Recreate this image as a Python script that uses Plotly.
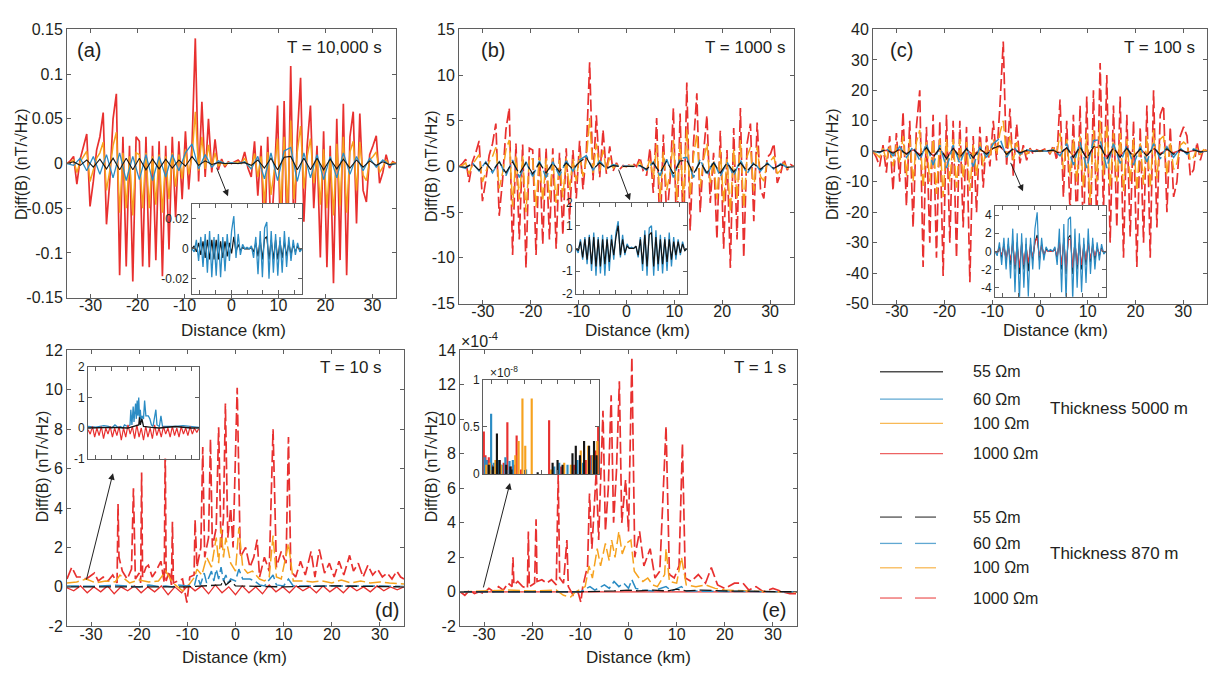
import plotly.graph_objects as go

W, H = 1216, 687
FONT = "Liberation Sans, Arial, Helvetica, sans-serif"
TXT = "#231f20"
AXC = "#5f5f5f"
RED, ORANGE, BLUE, BLACK = "#e8302f", "#f6a21e", "#2b8cc4", "#151515"
DASH = "12px,4px"

# ---------------- data ----------------
X7 = [-35.0, -34.3, -33.6, -32.9, -32.2, -31.5, -30.8, -30.1, -29.4, -28.7,
      -28.0, -27.3, -26.6, -25.9, -25.2, -24.5, -23.8, -23.1, -22.4, -21.7,
      -21.0, -20.3, -19.6, -18.9, -18.2, -17.5, -16.8, -16.1, -15.4, -14.7,
      -14.0, -13.3, -12.6, -11.9, -11.2, -10.5, -9.8, -9.1, -8.4, -7.7,
      -7.0, -6.3, -5.6, -4.9, -4.2, -3.5, -2.8, -2.1, -1.4, -0.7,
      0.0, 0.7, 1.4, 2.1, 2.8, 3.5, 4.2, 4.9, 5.6, 6.3,
      7.0, 7.7, 8.4, 9.1, 9.8, 10.5, 11.2, 11.9, 12.6, 13.3,
      14.0, 14.7, 15.4, 16.1, 16.8, 17.5, 18.2, 18.9, 19.6, 20.3,
      21.0, 21.7, 22.4, 23.1, 23.8, 24.5, 25.2, 25.9, 26.6, 27.3,
      28.0, 28.7, 29.4, 30.1, 30.8, 31.5, 32.2, 32.9, 33.6, 34.3, 35.0]
X14 = [-35.0, -33.6, -32.2, -30.8, -29.4, -28.0, -26.6, -25.2, -23.8, -22.4,
       -21.0, -19.6, -18.2, -16.8, -15.4, -14.0, -12.6, -11.2, -9.8, -8.4,
       -7.0, -5.6, -4.2, -2.8, -1.4, 0.0, 1.4, 2.8, 4.2, 5.6,
       7.0, 8.4, 9.8, 11.2, 12.6, 14.0, 15.4, 16.8, 18.2, 19.6,
       21.0, 22.4, 23.8, 25.2, 26.6, 28.0, 29.4, 30.8, 32.2, 33.6, 35.0]
XTICKS = [-30, -20, -10, 0, 10, 20, 30]

# (a) T = 10,000 s
RED_A = [0.000, 0.003, 0.008, -0.023, 0.005, 0.018, 0.033, -0.048, -0.020, 0.015,
         0.030, 0.057, -0.068, -0.020, 0.050, 0.078, -0.125, 0.030, -0.115, 0.020,
         -0.132, 0.030, 0.025, -0.115, 0.030, -0.116, 0.020, -0.108, 0.025, -0.126,
         0.020, -0.096, 0.030, -0.060, 0.025, -0.040, 0.036, -0.029, 0.020, 0.140,
         -0.020, 0.069, -0.015, 0.050, -0.010, 0.027, -0.007, 0.005, -0.004, 0.002,
         0.000, 0.002, 0.004, 0.000, 0.013, -0.005, -0.015, 0.025, -0.036, 0.020,
         -0.100, 0.030, -0.080, -0.020, 0.065, -0.112, 0.070, -0.112, 0.109, -0.090,
         0.030, 0.096, -0.065, 0.020, 0.065, -0.050, 0.020, -0.105, 0.036, -0.116,
         0.020, -0.134, 0.050, -0.108, 0.067, -0.125, 0.030, 0.058, -0.067, 0.056,
         -0.030, -0.043, 0.010, 0.020, 0.031, -0.022, -0.010, 0.010, -0.005, 0.002, 0.000]
ORANGE_A = [0.000, 0.001, 0.004, -0.010, 0.002, 0.008, 0.014, -0.020, -0.008, 0.006,
            0.012, 0.024, -0.030, -0.008, 0.020, 0.035, -0.055, 0.012, -0.050, 0.008,
            -0.058, 0.012, 0.010, -0.050, 0.012, -0.050, 0.008, -0.046, 0.010, -0.055,
            0.008, -0.040, 0.012, -0.026, 0.010, -0.017, 0.016, -0.012, 0.008, 0.058,
            -0.008, 0.030, -0.006, 0.021, -0.004, 0.012, -0.003, 0.002, -0.002, 0.001,
            0.000, 0.001, 0.002, 0.000, 0.006, -0.002, -0.006, 0.011, -0.015, 0.008,
            -0.045, 0.013, -0.035, -0.008, 0.028, -0.050, 0.030, -0.050, 0.048, -0.040,
            0.013, 0.042, -0.028, 0.008, 0.028, -0.022, 0.008, -0.046, 0.016, -0.050,
            0.008, -0.058, 0.022, -0.047, 0.030, -0.055, 0.013, 0.025, -0.030, 0.024,
            -0.013, -0.019, 0.004, 0.008, 0.013, -0.010, -0.004, 0.004, -0.002, 0.001, 0.000]
BLUE_A = [0.0, -0.002, 0.006, -0.008, 0.008, -0.012, 0.010, -0.016, 0.012, -0.019,
          0.008, -0.018, 0.010, -0.019, 0.008, -0.015, 0.010, -0.008, 0.012, 0.022,
          -0.006, 0.010, -0.004, 0.003, 0.000, 0.001, 0.000, 0.002, -0.006, 0.008,
          -0.017, 0.012, -0.019, 0.014, 0.018, -0.020, 0.012, -0.016, 0.010, -0.018,
          0.008, -0.016, 0.012, -0.012, 0.008, -0.008, 0.006, -0.004, 0.004, -0.002, 0.0]
BLACK_A = [0.0, 0.002, -0.002, 0.004, -0.004, 0.005, -0.006, 0.006, -0.007, 0.006,
           -0.007, 0.006, -0.007, 0.005, -0.006, 0.005, -0.005, 0.004, -0.003, 0.008,
           -0.002, 0.003, -0.001, 0.001, 0.0, 0.0, 0.0, 0.001, -0.002, 0.004,
           -0.005, 0.006, -0.007, 0.007, 0.008, -0.007, 0.006, -0.007, 0.006, -0.007,
           0.005, -0.006, 0.005, -0.005, 0.004, -0.004, 0.003, -0.002, 0.002, -0.001, 0.0]

# (b) T = 1000 s
RED_B = [0.0, 0.3, 0.8, -1.7, 0.5, 1.5, 2.8, -3.8, -1.5, 1.2,
         2.5, 4.7, -5.4, -1.5, 4.0, 6.4, -9.7, 2.5, -8.0, 2.4,
         -11.1, 2.0, 1.8, -9.7, 2.2, -8.5, 2.0, -8.0, 2.0, -9.0,
         1.5, -7.5, 2.0, -5.8, 1.8, -3.5, 2.8, -2.5, 1.5, 11.4,
         -1.5, 5.6, -1.2, 4.0, -0.8, 2.2, -0.5, 0.4, -0.3, 0.1,
         0.0, 0.2, 0.3, 0.0, 1.0, -0.5, -1.0, 2.0, -2.9, 5.3,
         -8.0, 3.5, -5.8, -1.5, 6.4, -8.3, 5.8, -8.5, 9.2, -7.0,
         2.5, 8.0, -5.0, 1.5, 5.6, -4.0, 1.5, -8.0, 3.9, -9.0,
         1.8, -11.1, 4.2, -8.0, 6.4, -10.0, 2.5, 4.7, -6.0, 4.8,
         -2.5, -3.5, 1.0, 1.4, 2.5, -1.8, -0.8, 0.8, -0.4, 0.2, 0.0]
ORANGE_B = [0.0, 0.1, 0.4, -0.8, 0.2, 0.7, 1.3, -1.7, -0.7, 0.5,
            1.1, 2.1, -2.4, -0.7, 1.8, 2.9, -4.4, 1.1, -3.6, 1.1,
            -5.0, 0.9, 0.8, -4.4, 1.0, -3.8, 0.9, -3.6, 0.9, -4.0,
            0.7, -3.4, 0.9, -2.6, 0.8, -1.6, 1.3, -1.1, 0.7, 5.3,
            -0.7, 2.5, -0.5, 1.8, -0.4, 1.0, -0.2, 0.2, -0.1, 0.0,
            0.0, 0.1, 0.1, 0.0, 0.5, -0.2, -0.5, 0.9, -1.3, 2.4,
            -3.6, 1.6, -2.6, -0.7, 2.9, -3.7, 2.6, -3.8, 4.1, -3.2,
            1.1, 3.6, -2.3, 0.7, 2.5, -1.8, 0.7, -3.6, 1.8, -4.0,
            0.8, -5.0, 1.9, -3.6, 2.9, -4.5, 1.1, 2.1, -2.7, 2.2,
            -1.1, -1.6, 0.5, 0.6, 1.1, -0.8, -0.4, 0.4, -0.2, 0.1, 0.0]
BLUE_B = [0.0, -0.2, 0.4, -0.5, 0.5, -0.7, 0.6, -1.0, 0.7, -1.2,
          0.5, -1.1, 0.6, -1.2, 0.5, -1.0, 0.6, -0.5, 0.7, 1.2,
          -0.4, 0.6, -0.3, 0.2, 0.0, 0.05, 0.0, 0.1, -0.4, 0.5,
          -1.0, 0.8, -1.2, 0.9, 1.0, -1.2, 0.8, -1.0, 0.6, -1.1,
          0.5, -1.0, 0.7, -0.8, 0.5, -0.5, 0.4, -0.3, 0.3, -0.1, 0.0]
BLACK_B = [0.0, -0.1, 0.3, -0.4, 0.4, -0.5, 0.5, -0.7, 0.5, -0.8,
           0.4, -0.8, 0.4, -0.7, 0.4, -0.6, 0.4, -0.3, 0.5, 1.0,
           -0.3, 0.4, -0.2, 0.1, 0.0, 0.0, 0.0, 0.1, -0.3, 0.4,
           -0.7, 0.6, -0.8, 0.6, 0.7, -0.8, 0.5, -0.7, 0.4, -0.7,
           0.4, -0.6, 0.4, -0.5, 0.3, -0.3, 0.3, -0.2, 0.2, -0.1, 0.0]

# (c) T = 100 s
RED_C = [0.0, -2.0, -5.0, 2.0, -7.0, 5.0, -13.0, 6.0, -10.0, 13.0,
         -18.0, 10.0, -25.0, 8.0, 20.0, -38.0, 8.0, -30.0, 12.0, -35.0,
         10.0, -41.0, 12.0, -30.0, 10.0, -35.0, 10.0, -25.0, 8.0, -43.0,
         5.0, -20.0, 8.0, -12.0, 5.0, -5.0, 10.0, -3.0, 15.0, 36.0,
         -5.0, 14.0, -8.0, 9.0, -4.0, 2.0, -3.0, 1.0, -1.0, 0.5,
         0.0, 0.5, 1.0, -1.0, 2.0, -3.0, 17.0, -15.0, 10.0, -20.0,
         12.0, -25.0, 15.0, -30.0, 18.0, -33.0, 20.0, -25.0, 29.0, -20.0,
         25.0, -30.0, 15.0, -25.0, 18.0, -35.0, 12.0, -28.0, 10.0, -38.0,
         8.0, -30.0, 15.0, -35.0, 20.0, -25.0, 12.0, 15.0, -20.0, 8.0,
         -15.0, -10.0, 5.0, 8.0, 5.0, -8.0, -6.0, 3.0, -3.0, 1.0, 0.0]
ORANGE_C = [0.0, -1.0, -2.0, 1.0, -3.0, 2.0, -5.0, 2.0, -4.0, 5.0,
            -8.0, 4.0, -10.0, 3.0, 7.0, -12.0, 3.0, -10.0, 4.0, -14.0,
            4.0, -15.0, 4.0, -10.0, 4.0, -12.0, 4.0, -9.0, 3.0, -13.0,
            2.0, -8.0, 3.0, -5.0, 2.0, -2.0, 4.0, -1.0, 6.0, 10.0,
            -2.0, 5.0, -3.0, 3.0, -1.5, 1.0, -1.0, 0.5, -0.5, 0.2,
            0.0, 0.2, 0.5, -0.5, 1.0, -1.0, 6.0, -6.0, 4.0, -8.0,
            4.0, -10.0, 5.0, -12.0, 6.0, -17.0, 7.0, -10.0, 10.0, -8.0,
            9.0, -12.0, 6.0, -10.0, 6.0, -13.0, 4.0, -10.0, 4.0, -13.0,
            3.0, -11.0, 5.0, -12.0, 7.0, -9.0, 4.0, 5.0, -8.0, 3.0,
            -6.0, -4.0, 2.0, 3.0, 2.0, -3.0, -2.0, 1.0, -1.0, 0.5, 0.0]
BLUE_C = [0.0, -0.5, 1.0, -1.5, 1.5, -2.0, 1.5, -3.0, 2.5, -4.5,
          2.0, -5.5, 2.0, -4.0, 1.5, -5.0, 1.5, -2.0, 2.5, 4.3,
          -2.0, 1.5, -1.0, 0.5, 0.0, 0.2, 0.0, 0.5, -1.5, 2.5,
          -4.5, 3.0, -5.5, 3.5, 3.8, -5.5, 2.5, -4.0, 2.0, -4.5,
          1.5, -3.5, 2.5, -2.5, 1.5, -2.0, 1.0, -1.0, 0.8, -0.3, 0.0]
BLACK_C = [0.0, -0.2, 0.5, -0.7, 0.8, -1.0, 0.8, -1.5, 1.2, -2.0,
           1.0, -2.5, 1.0, -2.0, 0.8, -2.2, 0.8, -1.0, 1.0, 1.8,
           -1.0, 0.8, -0.5, 0.3, 0.0, 0.1, 0.0, 0.3, -0.8, 1.2,
           -2.0, 1.5, -2.5, 1.5, 1.8, -2.5, 1.2, -2.0, 1.0, -2.0,
           0.8, -1.5, 1.2, -1.2, 0.8, -1.0, 0.5, -0.5, 0.4, -0.2, 0.0]
RED_C_SOLID = [0.0, -0.2, 0.3, -0.4, 0.5, -0.8, 0.5, -1.0, 0.8, -1.5,
               0.6, -1.8, 0.8, -1.5, 0.5, -1.2, 0.5, -0.6, 1.0, 1.5,
               -0.5, 0.6, -0.3, 0.1, 0.0, 0.0, 0.0, 0.2, -0.5, 1.0,
               -1.5, 1.2, -2.0, 1.2, 1.4, -1.8, 1.0, -1.5, 0.8, -1.5,
               0.6, -1.0, 0.8, -0.8, 0.5, -0.5, 0.3, -0.3, 0.2, -0.1, 0.0]

# (d) T = 10 s
RED_D_X = [-35, -34, -33, -32, -31, -30, -29.3, -28.5, -27.5, -26.5, -25.5, -24.6, -24.4, -24.2,
           -23.5, -22.5, -21.6, -21.2, -20.8, -20.0, -19.7, -19.5, -19.3, -18.6, -18.1, -17.3,
           -16.5, -15.5, -14.8, -14.6, -14.4, -13.8, -13.3, -13.1, -12.9, -12, -11, -10.1, -9.5,
           -8.6, -8.4, -8.0, -7.2, -6.8, -6.4, -5.6, -5.2, -4.8, -4.0, -3.5, -3.0, -2.5, -2.1,
           -1.6, -1.0, -0.5, 0.35, 1.0, 2.1, 3.0, 3.8, 4.5, 5.0, 6.0, 7.0, 7.8, 8.5, 9.5, 10.5,
           11.0, 11.5, 12.5, 13.5, 14.5, 15.7, 16.5, 17.4, 18.5, 19.5, 20.5, 21.5, 22.5, 23.7,
           24.5, 25.5, 26.5, 27.5, 28.5, 29.5, 30.5, 31.5, 32.5, 33.5, 34.3, 35]
RED_D_Y = [0.4, 1.0, 0.5, 0.5, 0.4, 0.6, 0.7, 0.3, 0.5, 0.3, 0.6, 0.2, 4.2, 1.5,
           0.8, 0.4, 0.9, 5.0, 0.4, 0.7, 0.2, 5.8, 0.5, 1.0, 1.1, 0.5,
           0.8, 1.3, 0.2, 7.3, 0.3, 0.8, 0.1, 3.3, 0.2, 0.3, 0.4, -0.8, 0.5,
           0.6, 3.4, 1.0, 2.0, 7.1, 1.5, 2.5, 7.5, 2.0, 3.0, 8.1, 2.0, 3.5, 9.3,
           2.5, 4.0, 2.0, 10.1, 1.5, 2.0, 1.0, 1.5, 2.4, 0.5, 1.5, 0.8, 8.0, 1.0, 1.8, 1.2,
           7.6, 0.8, 0.5, 1.3, 0.6, 1.8, 0.5, 1.9, 0.7, 1.2, 0.5, 1.3, 0.6, 1.6,
           0.8, 1.2, 0.5, 1.1, 0.6, 0.9, 0.5, 0.7, 0.4, 0.8, 0.5, 0.4]
ORANGE_D_X = [-35, -33, -31, -29, -27, -25, -24, -22, -20, -18, -16, -14.5, -13, -12, -11, -10,
              -8.5, -8, -7, -6, -5, -4, -3.5, -3, -2.5, -2, -1, 0, 0.7, 1.5, 2.5, 3.5, 5, 6, 7,
              7.8, 8.5, 9.5, 11, 12, 14, 16, 18, 20, 22, 24, 26, 28, 30, 32, 35]
ORANGE_D_Y = [0.2, 0.25, 0.4, 0.2, 0.3, 0.25, 0.6, 0.2, 0.35, 0.25, 0.3, 0.8, 0.2, 0.0, -0.2, 0.0,
              0.5, 0.9, 0.6, 1.5, 1.0, 2.5, 1.2, 3.0, 1.5, 2.5, 1.2, 0.8, 3.0, 1.0, 0.7, 0.8, 0.4, 0.3, 0.5,
              2.6, 0.5, 0.4, 2.2, 0.3, 0.3, 0.25, 0.3, 0.2, 0.35, 0.2, 0.3, 0.2, 0.25, 0.2, 0.15]
BLUE_D_X = [-35, -30, -25, -22, -20, -18, -16, -14.5, -13, -12, -10, -8.5, -8, -7.3, -6.5, -6, -5,
            -4.5, -4, -3.5, -3, -2.5, -2, -1.5, -1, 0, 0.7, 1.5, 3, 4, 5, 6, 7.8, 8.5, 10, 11,
            12, 15, 20, 25, 30, 35]
BLUE_D_Y = [0.05, 0.03, 0.08, 0.05, 0.0, 0.1, 0.02, 0.05, 0.0, 0.1, 0.05, 0.1, 0.6, 0.1, 0.7, 0.2, 0.8,
            0.3, 0.9, 0.4, 1.0, 0.3, 0.6, 0.2, 0.4, 0.3, 0.9, 0.4, 0.4, 0.3, 0.1, 0.05, 0.6, 0.1, 0.05, 0.4,
            0.05, 0.05, 0.05, 0.08, 0.05, 0.02]
BLACK_D_X = [-35, -20, -10, -3, -2.5, -2, -1, 0, 5, 10, 20, 30, 35]
BLACK_D_Y = [0.0, 0.02, 0.0, 0.1, 0.35, 0.1, 0.3, 0.05, 0.02, 0.0, 0.05, 0.0, 0.0]
RED_D_SOLID = [-0.05, -0.2, 0.05, -0.3, 0.0, -0.25, 0.05, -0.35, 0.0, -0.2,
               0.05, -0.3, 0.0, -0.25, 0.05, -0.4, 0.0, -0.3, 0.1, -0.2,
               0.05, -0.35, 0.1, -0.3, 0.0, -0.4, 0.05, -0.3, 0.0, -0.35,
               0.1, -0.25, 0.0, -0.3, 0.05, -0.2, 0.0, -0.3, 0.05, -0.25,
               0.0, -0.3, 0.05, -0.2, 0.0, -0.25, 0.05, -0.2, 0.0, -0.15, 0.0]

# (e) T = 1 s  (units of 1e-4 nT/sqrt(Hz))
RED_E_X = [-35, -34, -33, -32, -31, -30, -29, -28, -27, -26, -25, -24.2, -24, -23.8, -23, -22, -21,
           -20.8, -20.6, -19.5, -19.2, -19, -18, -17, -16, -15, -14.6, -14.3, -13.5, -12.8, -12.5,
           -11.5, -10.5, -9.9, -9.5, -8.5, -8.1, -7.6, -6.7, -6.2, -5.3, -4.8, -4.2, -3.6, -3.1,
           -2.5, -1.9, -1.4, -0.6, 0, 0.7, 1.3, 2.3, 3.2, 4.5, 5.5, 6.5, 7.8, 8.5, 9.5, 10.5, 11.2,
           11.8, 13, 14.5, 16, 17.2, 18.5, 20, 22, 23.8, 25, 26.5, 28, 30, 32, 33.5, 35]
RED_E_Y = [0.0, -0.2, 0.1, -0.1, 0.0, -0.1, 0.2, 0.0, 0.3, 0.1, 0.5, 0.3, 2.0, 0.4, 0.6, 0.3, 0.2,
           3.5, 0.3, 0.5, 4.2, 0.6, 0.7, 0.5, 0.7, 0.4, 6.8, 0.8, 0.5, 3.0, 0.3,
           -0.2, 0.0, -0.6, 0.3, 1.5, 5.7, 2.5, 7.0, 3.0, 10.5, 3.5, 6.0, 11.4, 4.0,
           7.0, 12.2, 4.0, 6.5, 3.5, 13.6, 2.0, 3.5, 1.5, 2.5, 0.8, 1.2, 9.6, 1.0, 0.8, 1.5, 8.6,
           0.8, 0.6, 1.0, 0.5, 1.4, 0.4, 0.2, 0.5, 0.5, 0.1, 0.3, 0.0, 0.2, 0.0, -0.1, -0.1]
ORANGE_E_X = [-35, -30, -25, -20, -15, -13.5, -12, -11, -9, -8.2, -7.5, -6.5, -5.8, -4.8, -4, -3.5,
              -2.8, -2, -1.3, -0.5, 0.5, 1.2, 2.2, 3, 4, 5, 6, 7.5, 7.8, 8.5, 10, 11, 12, 14, 16, 18,
              20, 25, 30, 35]
ORANGE_E_Y = [0.0, 0.05, 0.1, 0.05, 0.1, -0.2, -0.3, 0.0, 0.3, 1.5, 0.8, 2.5, 1.5, 2.8, 1.8, 3.0,
              2.0, 3.5, 2.2, 2.8, 3.0, 1.2, 0.8, 0.6, 0.8, 0.4, 0.3, 1.0, 2.5, 0.6, 0.5, 2.0, 0.4, 0.3, 0.4, 0.2,
              0.1, 0.05, 0.0, 0.0]
BLUE_E_X = [-35, -20, -10, -8, -7, -5, -4, -3, -2, -1, 0, 0.7, 1.5, 3, 5, 7.8, 9, 11, 12, 20, 35]
BLUE_E_Y = [0.0, 0.02, 0.0, 0.3, 0.1, 0.4, 0.2, 0.6, 0.3, 0.5, 0.2, 0.7, 0.2, 0.1, 0.05, 0.3, 0.05,
            0.3, 0.05, 0.02, 0.0]
BLACK_E_X = [-35, -10, -3, 0, 2, 5, 8, 10, 12, 15, 20, 25, 35]
BLACK_E_Y = [0.0, 0.0, 0.05, 0.1, 0.05, 0.1, 0.05, 0.15, 0.05, 0.1, 0.05, 0.02, 0.0]

# inset (e) bars (units of 1e-8)
RED_EI_X = [-34.5, -33.5, -32.5, -31.5, -29.5, -27, -25, -22.5, -20.3, -18, -16, -14.7, -12,
            4.9, 12, 20, 27, 30, 33, 34.5]
RED_EI_H = [0.45, 0.2, 0.15, 0.18, 0.1, 0.12, 0.15, 0.12, 0.55, 0.08, 0.1, 0.41, 0.05,
            0.57, 0.08, 0.1, 0.15, 0.2, 0.25, 0.5]
BLUE_EI_X = [-34, -32.8, -30.1, -28.5, -26, -23.5, -21.5, -19, -17, -9, 8, 11, 16, 22, 25, 31, 32.5]
BLUE_EI_H = [0.18, 0.15, 0.64, 0.12, 0.15, 0.1, 0.18, 0.14, 0.15, 0.05, 0.08, 0.12, 0.1, 0.15, 0.12,
             0.2, 0.15]
ORANGE_EI_X = [-33, -31, -27.5, -24, -15.5, -13.5, -11.2, -9.5, -5.6, 6, 14, 18, 24, 28.5, 31.5, 34]
ORANGE_EI_H = [0.1, 0.12, 0.15, 0.1, 0.2, 0.35, 0.8, 0.3, 0.8, 0.05, 0.12, 0.1, 0.25, 0.3, 0.2, 0.35]
BLACK_EI_X = [-31.5, -29, -26.6, -25, -21, -18.5, -17.8, -2, 7, 10, 13, 19, 21, 23.5, 26, 29, 32, 33.5]
BLACK_EI_H = [0.1, 0.08, 0.43, 0.15, 0.1, 0.08, 0.05, 0.02, 0.12, 0.15, 0.1, 0.22, 0.3, 0.2, 0.35,
              0.3, 0.35, 0.2]
UNIT_RATIO_E = 1e-4  # inset unit (1e-8) expressed in main unit (1e-4)

LEG_LABELS = ["55 Ωm", "60 Ωm", "100 Ωm", "1000 Ωm"]
LEG_COLORS = [BLACK, BLUE, ORANGE, RED]

# ---------------- figure ----------------
fig = go.Figure()


def names(n):
    s = "" if n == 1 else str(n)
    return "x" + s, "y" + s, "xaxis" + s, "yaxis" + s


def set_axes(n, box, yr, yvals, ytext, fs, xlabels=True):
    xn, yn, xk, yk = names(n)
    left, top, right, bottom = box
    common = dict(showline=True, linecolor=AXC, linewidth=1, mirror="ticks", ticks="inside",
                  ticklen=4, tickcolor=AXC, showgrid=False, zeroline=False, fixedrange=True,
                  tickfont=dict(family=FONT, size=fs, color=TXT))
    fig.update_layout(**{
        xk: dict(common, domain=[left / W, right / W], range=[-35, 35], anchor=yn,
                 tickvals=XTICKS, ticktext=[str(v) for v in XTICKS], showticklabels=xlabels,
                 ticklabelstandoff=-7),
        yk: dict(common, domain=[1 - bottom / H, 1 - top / H], range=yr, anchor=xn,
                 tickvals=yvals, ticktext=ytext),
    })


def line(n, x, y, color, width=1.6, dash="solid"):
    xn, yn, _, _ = names(n)
    fig.add_trace(go.Scatter(x=x, y=y, xaxis=xn, yaxis=yn, mode="lines",
                             line=dict(color=color, width=width, dash=dash),
                             showlegend=False, hoverinfo="skip"))


def bars(n, x, h, color):
    xn, yn, _, _ = names(n)
    fig.add_trace(go.Bar(x=x, y=h, xaxis=xn, yaxis=yn, marker=dict(color=color, line=dict(width=0)),
                         width=1.3, showlegend=False, hoverinfo="skip"))


def ann(text, xp, yp, size=16, xanchor="center", yanchor="middle", angle=0, color=TXT):
    fig.add_annotation(text=text, x=xp / W, y=1 - yp / H, xref="paper", yref="paper",
                       showarrow=False, xanchor=xanchor, yanchor=yanchor, textangle=angle,
                       font=dict(family=FONT, size=size, color=color))


def arrow(tail, head):
    fig.add_annotation(text="", x=head[0] / W, y=1 - head[1] / H, xref="paper", yref="paper",
                       ax=tail[0] - head[0], ay=tail[1] - head[1], showarrow=True,
                       arrowhead=2, arrowsize=1.3, arrowwidth=1, arrowcolor="#222")


# main panels
set_axes(1, (67, 22, 396, 297), [-0.15, 0.15], [-0.15, -0.1, -0.05, 0, 0.05, 0.1, 0.15],
         ["-0.15", "-0.1", "-0.05", "0", "0.05", "0.1", "0.15"], 16)
set_axes(2, (459, 22, 794, 303), [-15, 15], [-15, -10, -5, 0, 5, 10, 15],
         ["-15", "-10", "-5", "0", "5", "10", "15"], 16)
set_axes(3, (873, 22, 1207, 303), [-50, 40], list(range(-50, 41, 10)),
         [str(v) for v in range(-50, 41, 10)], 16)
set_axes(4, (67, 351, 404, 634), [-2, 12], list(range(-2, 13, 2)),
         [str(v) for v in range(-2, 13, 2)], 16)
set_axes(5, (460, 351, 797, 634), [-2, 14], list(range(-2, 15, 2)),
         [str(v) for v in range(-2, 15, 2)], 16)
# insets
set_axes(6, (192, 201, 302, 293), [-0.03, 0.03], [-0.02, 0, 0.02], ["-0.02", "0", "0.02"], 12, False)
set_axes(7, (576, 200, 687, 293), [-2, 2], [-2, -1, 0, 1, 2], ["-2", "-1", "0", "1", "2"], 12, False)
set_axes(8, (995, 203, 1106, 296), [-5, 5], [-4, -2, 0, 2, 4], ["-4", "-2", "0", "2", "4"], 12, False)
set_axes(9, (88, 368, 199, 462), [-1, 2], [-1, 0, 1, 2], ["-1", "0", "1", "2"], 12, False)
set_axes(10, (483, 381, 599, 478), [0, 1], [0, 0.5, 1], ["0", "0.5", "1"], 12, False)

# (a)
line(1, X7, RED_A, RED, 1.7)
line(1, X7, ORANGE_A, ORANGE, 1.5)
line(1, X14, BLUE_A, BLUE, 1.3)
line(1, X14, BLACK_A, BLACK, 1.1)
# (b)
line(2, X7, RED_B, RED, 1.7, DASH)
line(2, X7, ORANGE_B, ORANGE, 1.5, DASH)
line(2, X14, BLUE_B, BLUE, 1.5, DASH)
line(2, X14, BLACK_B, BLACK, 1.2, DASH)
# (c)
line(3, X14, RED_C_SOLID, RED, 1.4)
line(3, X7, RED_C, RED, 1.7, DASH)
line(3, X7, ORANGE_C, ORANGE, 1.5, DASH)
line(3, X14, BLUE_C, BLUE, 1.5, DASH)
line(3, X14, BLACK_C, BLACK, 1.2, DASH)
# (d)
line(4, RED_D_X, RED_D_Y, RED, 1.7, DASH)
line(4, X14, RED_D_SOLID, RED, 1.3)
line(4, ORANGE_D_X, ORANGE_D_Y, ORANGE, 1.5, DASH)
line(4, BLUE_D_X, BLUE_D_Y, BLUE, 1.5, DASH)
line(4, BLACK_D_X, BLACK_D_Y, BLACK, 1.3, DASH)
# (e)
line(5, RED_E_X, RED_E_Y, RED, 1.7, DASH)
line(5, RED_EI_X, [h * UNIT_RATIO_E for h in RED_EI_H], RED, 1.3)
line(5, ORANGE_E_X, ORANGE_E_Y, ORANGE, 1.5, DASH)
line(5, BLUE_E_X, BLUE_E_Y, BLUE, 1.5, DASH)
line(5, BLACK_E_X, BLACK_E_Y, BLACK, 1.3, DASH)

# insets content
line(6, X14, BLACK_A, BLACK, 1.2)
line(6, X14, BLUE_A, BLUE, 1.3)
line(7, X14, BLUE_B, BLUE, 1.3)
line(7, X14, BLACK_B, BLACK, 1.2)
line(8, X14, BLACK_C, BLACK, 1.1)
line(8, X14, RED_C_SOLID, RED, 1.1)
line(8, X14, BLUE_C, BLUE, 1.2)
line(9, BLUE_D_X, BLUE_D_Y, BLUE, 1.3)
line(9, X14, RED_D_SOLID, RED, 1.2)
line(9, BLACK_D_X, BLACK_D_Y, BLACK, 1.3)
bars(10, RED_EI_X, RED_EI_H, RED)
bars(10, BLUE_EI_X, BLUE_EI_H, BLUE)
bars(10, ORANGE_EI_X, ORANGE_EI_H, ORANGE)
bars(10, BLACK_EI_X, BLACK_EI_H, BLACK)

# arrows
arrow((216, 163), (228, 193))
arrow((618, 165), (630, 197))
arrow((1010, 158), (1023, 188))
arrow((86, 585), (113, 477))
arrow((483, 593), (510, 487))

# axis titles
YT = "Diff(B) (nT/√Hz)"
for xp, yp in [(21, 160), (432, 162), (832, 160), (42, 470), (431, 470)]:
    ann(YT, xp, yp, 16, angle=-90)
for xp, yp in [(233, 331), (637, 331), (1055, 331), (234, 666), (638, 666)]:
    ann("Distance (km)", xp, yp, 17)

# panel labels
ann("(a)", 89, 43, 20)
ann("(b)", 493, 43, 20)
ann("(c)", 901, 43, 20)
ann("(d)", 387, 617, 20)
ann("(e)", 774, 617, 20)
ann("T = 10,000 s", 384, 40, 17, xanchor="right")
ann("T = 1000 s", 788, 40, 17, xanchor="right")
ann("T = 100 s", 1197, 40, 17, xanchor="right")
ann("T = 10 s", 384, 369, 17, xanchor="right")
ann("T = 1 s", 788, 369, 17, xanchor="right")
ann("×10<sup>-4</sup>", 459, 340, 16, xanchor="left")
ann("×10<sup>-8</sup>", 488, 373, 12, xanchor="left")

# legend
shapes = []
for lab, col, yp in zip(LEG_LABELS, LEG_COLORS, [373, 401, 426, 457]):
    shapes.append(dict(type="line", xref="paper", yref="paper", x0=880 / W, x1=943 / W,
                       y0=1 - yp / H, y1=1 - yp / H, line=dict(color=col, width=1.3), opacity=0.75))
    ann(lab, 971, yp, 16, xanchor="left")
for lab, col, yp in zip(LEG_LABELS, LEG_COLORS, [522, 549, 574, 605]):
    for a, b in [(880, 902), (915, 936)]:
        shapes.append(dict(type="line", xref="paper", yref="paper", x0=a / W, x1=b / W,
                           y0=1 - yp / H, y1=1 - yp / H, line=dict(color=col, width=1.3), opacity=0.75))
    ann(lab, 971, yp, 16, xanchor="left")
ann("Thickness 5000 m", 1048, 411, 17, xanchor="left")
ann("Thickness 870 m", 1048, 559, 17, xanchor="left")

fig.update_layout(width=W, height=H, margin=dict(l=0, r=0, t=0, b=0),
                  paper_bgcolor="white", plot_bgcolor="white", barmode="overlay",
                  showlegend=False, shapes=shapes, font=dict(family=FONT, color=TXT))

fig.write_html("out.html")
